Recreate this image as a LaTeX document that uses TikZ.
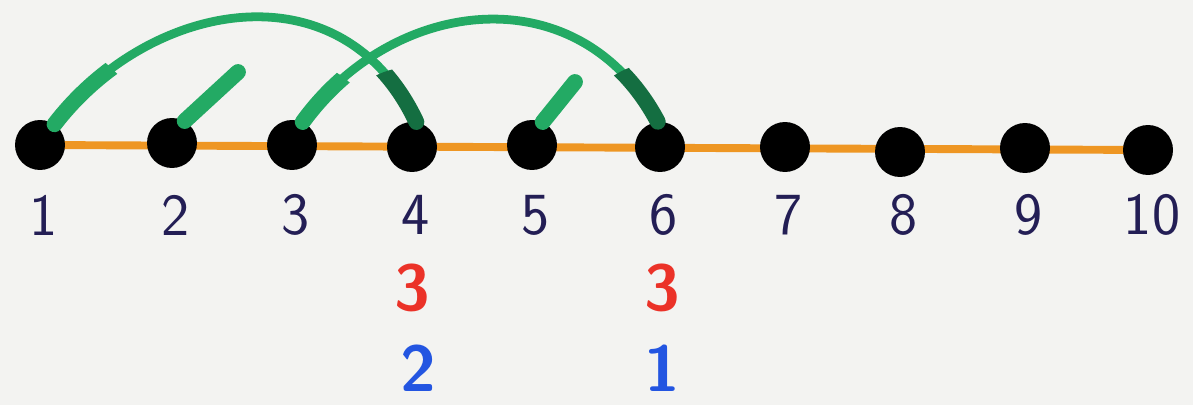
\documentclass[tikz,border=0pt]{standalone}
\usepackage{tikz}
\usetikzlibrary{backgrounds}

\definecolor{paper}{RGB}{243,243,241}
\definecolor{lineorange}{RGB}{238,150,35}
\definecolor{jumpgreen}{RGB}{35,170,100}
\definecolor{jumpdark}{RGB}{20,110,65}
\definecolor{inknavy}{RGB}{35,30,85}
\definecolor{inkred}{RGB}{235,50,40}
\definecolor{inkblue}{RGB}{35,85,225}

\begin{document}
\begin{tikzpicture}[x=0.02cm, y=-0.02cm,
		dot/.style={circle, fill=black, inner sep=0pt, minimum size=1cm},
		num/.style={text=inknavy, font=\fontsize{34}{36}\selectfont\sffamily},
		tally/.style={inner sep=1pt, font=\fontsize{37}{40}\selectfont\sffamily\bfseries},
		jump/.style={draw=jumpgreen, line width=5pt, line cap=round},
		stub/.style={draw=jumpgreen, line width=9pt, line cap=round}]
		\useasboundingbox (0,0) rectangle (1193,405);
		% the points and their numbers
		\foreach \i/\x/\y in {1/40/145, 2/172/143, 3/292/145, 4/412/147, 5/532/145,
			6/660/147, 7/785/147, 8/900/152, 9/1025/148, 10/1148/150} {
			\node[dot] (d\i) at (\x, \y) {};
			\node[num] (n\i) at (\x+4, 215) {\i};
		}
		\begin{pgfonlayer}{background}
			\fill[paper] (0,0) rectangle (1193,405);
			\draw[lineorange, line width=4.5pt] (d1.center) -- (d10.center);
		\end{pgfonlayer}
		% jumps
		\draw[jump] (d1.55) .. controls (150, 0) and (342, -36) .. (d4.80);
		\draw[jump] (d3.65) .. controls (395, -5) and (580, -25) .. (d6.95);
		% thicker ends of the jumps
		\begin{scope}
			\clip (d1) circle (105);
			\draw[stub] (d1.55) .. controls (150, 0) and (342, -36) .. (d4.80);
		\end{scope}
		\begin{scope}
			\clip (d3) circle (85);
			\draw[stub] (d3.65) .. controls (395, -5) and (580, -25) .. (d6.95);
		\end{scope}
		\begin{scope}
			\clip (d4) circle (80);
			\draw[stub, jumpdark] (d1.55) .. controls (150, 0) and (342, -36) .. (d4.80);
		\end{scope}
		\begin{scope}
			\clip (d6) circle (85);
			\draw[stub, jumpdark] (d3.65) .. controls (395, -5) and (580, -25) .. (d6.95);
		\end{scope}
		% short starts
		\coordinate (t2) at (238, 72);
		\coordinate (t5) at (575, 82);
		\draw[stub] (d2.60) -- (t2);
		\draw[stub] (d5.65) -- (t5);
		% counts
		\node[tally, text=inkred] (r4) at (412, 288) {3};
		\node[tally, text=inkred] (r6) at (662, 288) {3};
		\node[tally, text=inkblue] (b4) at (418, 368) {2};
		\node[tally, text=inkblue] (b6) at (662, 368) {1};
	\end{tikzpicture}
\end{document}
